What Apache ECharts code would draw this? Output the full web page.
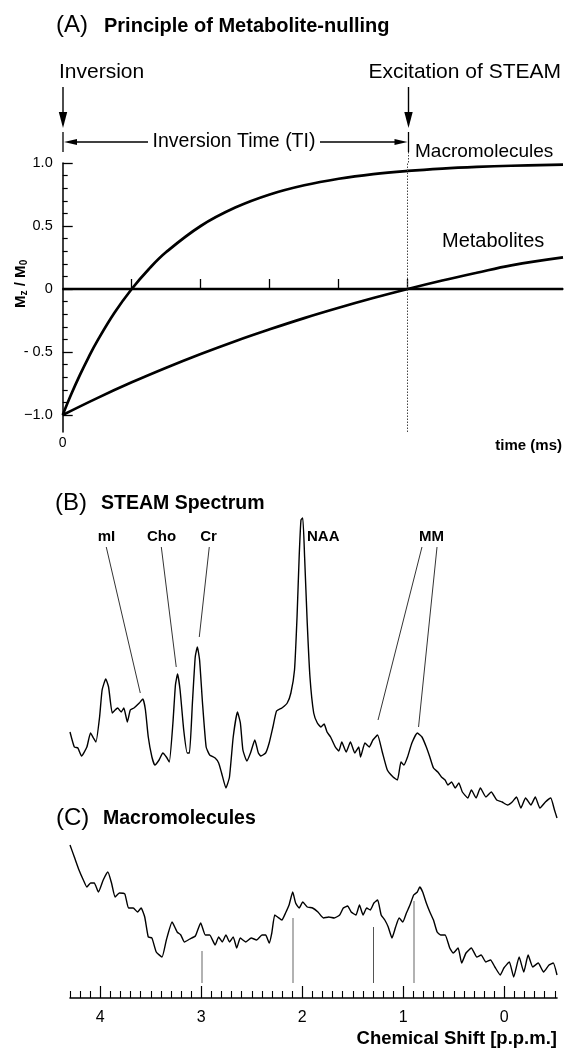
<!DOCTYPE html>
<html><head><meta charset="utf-8">
<script src="https://cdn.jsdelivr.net/npm/echarts@6/dist/echarts.min.js"></script>
<style>html,body{margin:0;padding:0;background:#fff}#c{width:564px;height:1050px}</style>
</head><body><div id="c"></div>
<script>
// ---------- Panel A: inversion recovery (time in ms, Mz/M0) ----------
const timeMacro = [0,25,50,75,100,150,200,250,300,400,500,600,700,800,900,1000,1100,1200,1300,1450];
const macroMz   = [-1,-0.834,-0.682,-0.542,-0.414,-0.189,0,0.159,0.293,0.5,0.646,0.75,0.823,0.875,0.912,0.9375,0.956,0.969,0.978,0.987];
const timeMetab = [0,100,200,300,400,500,600,700,800,900,1000,1100,1200,1300,1450];
const metabMz   = [-1,-0.866,-0.741,-0.625,-0.516,-0.414,-0.320,-0.231,-0.149,-0.072,0,0.067,0.129,0.188,0.251];
const inversionTime = 1000;
const timeTicks = [200,400,600,800,1000];
const mzMajorTicks = [-1,-0.5,0,0.5,1];
const mzMinorTicks = [-0.9,-0.8,-0.7,-0.6,-0.4,-0.3,-0.2,-0.1,0.1,0.2,0.3,0.4,0.6,0.7,0.8,0.9];
const mzTickText = {'-1':'\u22121.0','-0.5':'- 0.5','0':'0','0.5':'0.5','1':'1.0'};

// ---------- Panel B: STEAM spectrum (ppm, a.u.) ----------
const ppmB = [4.300,4.257,4.222,4.186,4.133,4.097,4.068,4.043,4.007,3.982,3.946,3.918,3.882,3.853,3.829,3.793,3.767,3.732,3.703,3.667,3.614,3.578,3.553,3.525,3.489,3.460,3.418,3.381,3.346,3.317,3.281,3.256,3.235,3.210,3.174,3.139,3.117,3.088,3.060,3.039,3.017,2.988,2.952,2.917,2.863,2.828,2.799,2.756,2.721,2.684,2.642,2.613,2.588,2.549,2.513,2.470,2.435,2.410,2.363,2.328,2.291,2.255,2.202,2.149,2.113,2.077,2.052,2.031,2.013,1.995,1.977,1.951,1.924,1.887,1.851,1.816,1.784,1.755,1.720,1.673,1.638,1.609,1.566,1.523,1.480,1.441,1.423,1.380,1.337,1.301,1.255,1.208,1.158,1.101,1.058,1.023,0.994,0.958,0.915,0.861,0.815,0.772,0.737,0.701,0.658,0.622,0.586,0.558,0.522,0.486,0.450,0.415,0.361,0.326,0.279,0.237,0.182,0.129,0.075,0.022,-0.032,-0.078,-0.121,-0.164,-0.211,-0.264,-0.307,-0.353,-0.407,-0.460,-0.497,-0.522];
const intB = [118,103,102,94,103,117,112,108,133,160,171,163,137,140,142,138,142,128,140,142,147,151,140,113,93,85,90,97,93,88,127,165,176,160,120,97,97,147,193,203,190,147,103,95,92,87,77,62,73,113,138,127,100,89,97,110,97,94,97,107,123,139,142,147,157,180,233,293,330,332,293,227,173,137,127,123,126,118,113,103,99,108,98,108,97,103,93,107,103,110,115,98,80,73,70,88,85,93,107,117,113,103,93,82,78,73,70,65,68,62,67,58,52,60,52,62,53,58,50,48,45,48,53,42,52,45,53,42,48,52,40,32];
const peakNames = ['mI','Cho','Cr','NAA','MM'];
// leader lines: [ppm at label, a.u. at label, ppm at peak, a.u. at peak]
const leaders = [[3.941,303,3.604,157],[3.396,303,3.248,183],[2.921,303,3.020,213],[0.815,303,1.250,130],[0.666,303,0.849,123]];

// ---------- Panel C: macromolecule spectrum (ppm, a.u.) ----------
const ppmC = [4.300,4.257,4.211,4.168,4.133,4.096,4.060,4.018,3.971,3.925,3.889,3.853,3.811,3.757,3.721,3.674,3.632,3.596,3.560,3.525,3.489,3.446,3.389,3.346,3.289,3.239,3.203,3.167,3.114,3.059,3.006,2.960,2.917,2.863,2.828,2.792,2.756,2.721,2.684,2.649,2.614,2.559,2.506,2.452,2.399,2.363,2.327,2.302,2.273,2.245,2.202,2.166,2.131,2.095,2.066,2.031,1.995,1.951,1.898,1.845,1.791,1.738,1.684,1.630,1.594,1.551,1.516,1.469,1.434,1.398,1.362,1.327,1.291,1.254,1.219,1.183,1.149,1.112,1.076,1.041,1.005,0.969,0.934,0.897,0.861,0.837,0.808,0.772,0.737,0.701,0.665,0.630,0.586,0.540,0.505,0.457,0.422,0.379,0.326,0.272,0.229,0.182,0.136,0.093,0.040,0.004,-0.050,-0.093,-0.147,-0.193,-0.236,-0.282,-0.336,-0.389,-0.443,-0.485,-0.522];
const intC = [155,143,130,120,113,117,117,108,120,128,117,103,107,106,92,92,88,92,83,63,62,48,43,60,78,68,65,58,61,64,77,65,65,55,63,58,65,58,63,52,62,58,62,60,65,65,57,67,85,83,80,87,95,108,97,92,98,93,92,88,82,83,82,85,92,94,88,85,95,85,92,90,97,100,85,80,73,62,73,82,78,87,95,105,108,113,108,97,88,80,68,65,65,52,47,52,37,47,52,43,45,38,40,33,25,32,38,23,43,28,45,33,37,28,35,37,25];
const markerPpm = [3.0,2.09,1.3,0.9];
const markerTop = [49,82,73,99];
const markerBottom = 17;
const ppmMajorTicks = [0,1,2,3,4];
const ppmMinorTicks = [-0.5,-0.4,-0.3,-0.2,-0.1,0.1,0.2,0.3,0.4,0.5,0.6,0.7,0.8,0.9,1.1,1.2,1.3,1.4,1.5,1.6,1.7,1.8,1.9,2.1,2.2,2.3,2.4,2.5,2.6,2.7,2.8,2.9,3.1,3.2,3.3,3.4,3.5,3.6,3.7,3.8,3.9,4.1,4.2,4.3];

// ---------- chart ----------
const F = '"Liberation Sans", Arial, Helvetica, sans-serif';
const chart = echarts.init(document.getElementById('c'), null, {renderer:'canvas'});
const zip = (a,b) => a.map((v,i)=>[v,b[i]]);
const PPM_MIN = -0.522, PPM_MAX = 4.3;

function txt(x, y, text, size, opts) {
  opts = opts || {};
  return {type:'text', x:x, y:y, silent:true, rotation: opts.rot || 0,
    style:{text:text, font:(opts.bold?'bold ':'')+size+'px '+F, fill:'#000',
      textAlign: opts.align || 'left', align: opts.align || 'left',
      textVerticalAlign:'middle', verticalAlign:'middle'}};
}
function seg(x1,y1,x2,y2,w,dash,color){
  return {type:'line', silent:true, shape:{x1,y1,x2,y2},
    style:{stroke: color||'#000', lineWidth: w||1.3, lineDash: dash||null}};
}
function tri(points){ return {type:'polygon', silent:true, shape:{points}, style:{fill:'#000'}}; }

const graphics = [
  // Panel A header
  txt(56, 25, '(A)', 24),
  txt(104, 26, 'Principle of Metabolite-nulling', 20, {bold:true}),
  txt(59, 72, 'Inversion', 21),
  txt(561, 72, 'Excitation of STEAM', 21, {align:'right'}),
  seg(63, 87, 63, 116, 1.4), tri([[63,128],[58.8,112],[67.2,112]]),
  seg(408.5, 87, 408.5, 116, 1.4), tri([[408.5,128],[404.3,112],[412.7,112]]),
  seg(63, 132, 63, 152, 1.3), seg(408.5, 132, 408.5, 152, 1.3),
  seg(408.5, 152, 408.5, 163, 1, [1.5,1.5], '#444'),
  seg(72, 142, 148, 142, 1.3), tri([[64,142],[77,139],[77,145]]),
  seg(320, 142, 400, 142, 1.3), tri([[407.5,142],[394.5,139],[394.5,145]]),
  txt(234, 142, 'Inversion Time (TI)', 19.5, {align:'center'}),
  txt(415, 152, 'Macromolecules', 19),
  txt(442, 241, 'Metabolites', 20),
  txt(562, 446, 'time (ms)', 15, {bold:true, align:'right'}),
  {type:'group', x:21, y:283, rotation:Math.PI/2, silent:true, children:[
    txt(-25, 0, 'M', 15, {bold:true}),
    txt(-12.4, 3.5, 'z', 10, {bold:true}),
    txt(-7.4, 0, ' / ', 15, {bold:true}),
    txt(5.1, 0, 'M', 15, {bold:true}),
    txt(17.7, 3.5, '0', 10, {bold:true})
  ]},
  // Panel B header and peak labels
  txt(55, 503, '(B)', 24),
  txt(101, 504, 'STEAM Spectrum', 19.5, {bold:true}),
  txt(106.5, 537, peakNames[0], 15, {bold:true, align:'center'}),
  txt(161.5, 537, peakNames[1], 15, {bold:true, align:'center'}),
  txt(208.5, 537, peakNames[2], 15, {bold:true, align:'center'}),
  txt(307, 537, peakNames[3], 15, {bold:true}),
  txt(431.5, 537, peakNames[4], 15, {bold:true, align:'center'}),
  // Panel C header
  txt(56, 818, '(C)', 24),
  txt(103, 819, 'Macromolecules', 19.5, {bold:true}),
  txt(557, 1039, 'Chemical Shift [p.p.m.]', 18.5, {bold:true, align:'right'})
];

const option = {
  animation:false,
  backgroundColor:'#fff',
  grid:[
    {left:62.7, top:163, width:500.3, height:269},
    {left:70, top:515, width:487, height:335},
    {left:70, top:840, width:487, height:158}
  ],
  xAxis:[
    {type:'value', gridIndex:0, min:0, max:1450,
      axisLine:{show:true, lineStyle:{color:'#000', width:1.5}},
      axisTick:{show:true, inside:true, length:10, customValues:timeTicks, lineStyle:{color:'#000', width:1.3}},
      axisLabel:{show:true, customValues:[0], margin:4, color:'#000', fontSize:14, fontFamily:F},
      splitLine:{show:false}},
    {type:'value', gridIndex:1, min:PPM_MIN, max:PPM_MAX, inverse:true, show:false, splitLine:{show:false}},
    {type:'value', gridIndex:2, min:PPM_MIN, max:PPM_MAX, inverse:true,
      axisLine:{show:true, lineStyle:{color:'#000', width:1.6}},
      axisTick:{show:true, inside:true, length:12, customValues:ppmMajorTicks, lineStyle:{color:'#000', width:1.2}},
      axisLabel:{show:true, customValues:ppmMajorTicks, margin:12, color:'#000', fontSize:16, fontFamily:F},
      splitLine:{show:false}},
    {type:'value', gridIndex:2, min:PPM_MIN, max:PPM_MAX, inverse:true, position:'bottom',
      axisLine:{show:false},
      axisTick:{show:true, inside:true, length:7, customValues:ppmMinorTicks, lineStyle:{color:'#000', width:1.1}},
      axisLabel:{show:false}, splitLine:{show:false}}
  ],
  yAxis:[
    {type:'value', gridIndex:0, min:-1.135, max:1, position:'left',
      axisLine:{show:true, lineStyle:{color:'#000', width:1.5}},
      axisTick:{show:true, inside:true, length:10, customValues:mzMajorTicks, lineStyle:{color:'#000', width:1.3}},
      axisLabel:{show:true, customValues:mzMajorTicks, margin:10, color:'#000', fontSize:14.5, fontFamily:F,
        formatter:(v)=>mzTickText[String(Math.round(v*10)/10)]},
      splitLine:{show:false}},
    {type:'value', gridIndex:0, min:-1.135, max:1, position:'left', offset:0,
      axisLine:{show:false},
      axisTick:{show:true, inside:true, length:5, customValues:mzMinorTicks, lineStyle:{color:'#000', width:1.2}},
      axisLabel:{show:false}, splitLine:{show:false}},
    {type:'value', gridIndex:1, min:0, max:335, show:false, splitLine:{show:false}},
    {type:'value', gridIndex:2, min:2, max:160, show:false, splitLine:{show:false}}
  ],
  series:[
    {type:'line', xAxisIndex:0, yAxisIndex:0, data:[[0,0],[1450,0]], symbol:'none', silent:true,
      lineStyle:{color:'#000', width:2.6},
      markLine:{symbol:['none','none'], silent:true, label:{show:false},
        lineStyle:{color:'#444', width:1, type:[1.5,1.5]}, data:[{xAxis:inversionTime}]}},
    {type:'line', xAxisIndex:0, yAxisIndex:0, data:zip(timeMacro, macroMz), symbol:'none', smooth:0.4, silent:true,
      lineStyle:{color:'#000', width:2.7}},
    {type:'line', xAxisIndex:0, yAxisIndex:0, data:zip(timeMetab, metabMz), symbol:'none', smooth:0.4, silent:true,
      lineStyle:{color:'#000', width:2.7}},
    {type:'line', xAxisIndex:1, yAxisIndex:2, data:zip(ppmB, intB), symbol:'none', smooth:0.15, silent:true,
      lineStyle:{color:'#000', width:1.4},
      markLine:{symbol:['none','none'], silent:true, label:{show:false},
        lineStyle:{color:'#000', width:0.8, type:'solid'},
        data: leaders.map(l => [{coord:[l[0], l[1]]},{coord:[l[2], l[3]]}])}},
    {type:'line', xAxisIndex:2, yAxisIndex:3, data:zip(ppmC, intC), symbol:'none', smooth:0.15, silent:true,
      lineStyle:{color:'#000', width:1.4},
      markLine:{symbol:['none','none'], silent:true, label:{show:false},
        lineStyle:{color:'#999', width:1.5, type:'solid'},
        data: markerPpm.map((p,i) => [{coord:[p, markerBottom]},{coord:[p, markerTop[i]],
          lineStyle: i===2 ? {color:'#555', width:1} : undefined}])}}
  ],
  graphic: graphics
};
chart.setOption(option);
</script></body></html>
